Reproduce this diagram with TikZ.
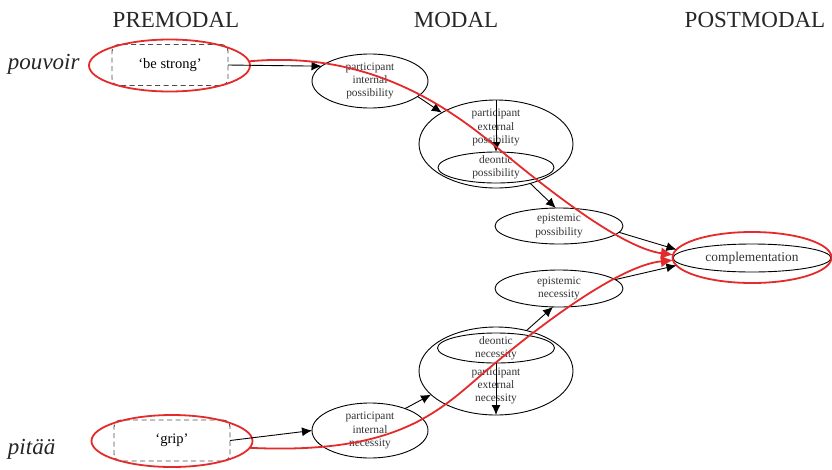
\documentclass[tikz,border=0pt]{standalone}
\usepackage{fontspec}
\setmainfont{Liberation Serif}
\usetikzlibrary{shapes.geometric,arrows.meta}
\definecolor{trace}{RGB}{228,42,42}
\begin{document}
\begin{tikzpicture}[x=1pt,y=-1pt,
  every node/.style={inner sep=0pt, outer sep=0pt},
  sense/.style={draw, ellipse, line width=0.9pt, align=center, inner ysep=-5pt,
    font=\fontsize{11.4}{13.3}\selectfont, text=black!80},
  sensetext/.style={align=center, font=\fontsize{11.4}{13.3}\selectfont, text=black!80},
  gloss/.style={draw=black!70, dash pattern=on 5pt off 3.5pt, rounded corners=7pt, line width=0.9pt,
    minimum width=116pt, minimum height=41pt, font=\fontsize{14.5}{17}\selectfont},
  halo/.style={draw=trace, ellipse, line width=1.8pt},
  link/.style={line width=0.9pt, -{Latex[length=10pt,width=9pt]}},
  route/.style={draw=trace, line width=1.8pt, -{Latex[length=12pt,width=12pt]}},
  stage/.style={font=\fontsize{23}{27}\selectfont, anchor=base, text=black!85},
  verb/.style={font=\fontsize{23}{27}\selectfont\itshape, anchor=base west, text=black!85}
]
\useasboundingbox (0,0) rectangle (832,469);

% column headings and verbs
\node[stage] (pre)  at (176,27) {PREMODAL};
\node[stage] (mod)  at (456,27) {MODAL};
\node[stage] (post) at (755,27) {POSTMODAL};
\node[verb] (pouvoir) at (8,69) {pouvoir};
\node[verb] (pitaa)   at (8,454) {pitää};

% premodal sources
\node[gloss] (bs)   at (170,65)    {‘be strong’};
\node[gloss] (grip) at (172,440.5) {‘grip’};

% possibility chain
\node[sense, minimum width=116pt, minimum height=54pt] (pip) at (370,81) {participant\\internal\\possibility};
\node[sense, minimum width=154pt, minimum height=88pt] (pep) at (496,144) {};
\node[sensetext] (pept) at (496,127.5) {participant\\external\\possibility};
\node[sense, minimum width=116pt, minimum height=31pt] (dp) at (496,167.5) {deontic\\possibility};
\node[sense, minimum width=128pt, minimum height=36pt] (ep) at (559,226) {epistemic\\possibility};

% necessity chain
\node[sense, minimum width=116pt, minimum height=55pt] (pin) at (370,430.5) {participant\\internal\\necessity};
\node[sense, minimum width=154pt, minimum height=88pt] (pen) at (496,371) {};
\node[sensetext] (pent) at (496,386) {participant\\external\\necessity};
\node[sense, minimum width=117pt, minimum height=30pt] (dn) at (496,348) {deontic\\necessity};
\node[sense, minimum width=128pt, minimum height=37pt] (en) at (559,288.5) {epistemic\\necessity};

% postmodal target
\node[sense, font=\fontsize{13.4}{16}\selectfont, minimum width=158pt, minimum height=28pt] (comp) at (752,258) {complementation};

% red highlight rings
\node[halo, minimum width=161pt, minimum height=52pt] (bsR)   at (169.5,65.5) {};
\node[halo, minimum width=161pt, minimum height=52pt] (gripR) at (172,441) {};
\node[halo, minimum width=159pt, minimum height=51pt] (compR) at (752,257.5) {};

% semantic map arrows
\draw[link] (bs.east) -- (pip.163);
\draw[link] (pip.-18) -- (pep.150);
\draw[link] (pep.north) -- (dp.north);
\draw[link] (pep.-49) -- (ep.100);
\draw[link] (ep.-6) -- (compR.174);
\draw[link] (en.9) -- (compR.186);
\draw[link] (pen.53) -- (en.-108);
\draw[link] (dn.south) -- (pen.south);
\draw[link] (pin.32) -- (pen.-160);
\draw[link] (grip.east) -- (pin.180);

% grammaticalization paths
\draw[route] (bsR.3) .. controls (370,50) and (450,108) .. (500,150)
  .. controls (540,183) and (620,248) .. (compR.178);
\draw[route] (gripR.-5) .. controls (400,455) and (440,410) .. (487,370)
  .. controls (540,325) and (620,265) .. (compR.182);
\end{tikzpicture}
\end{document}
